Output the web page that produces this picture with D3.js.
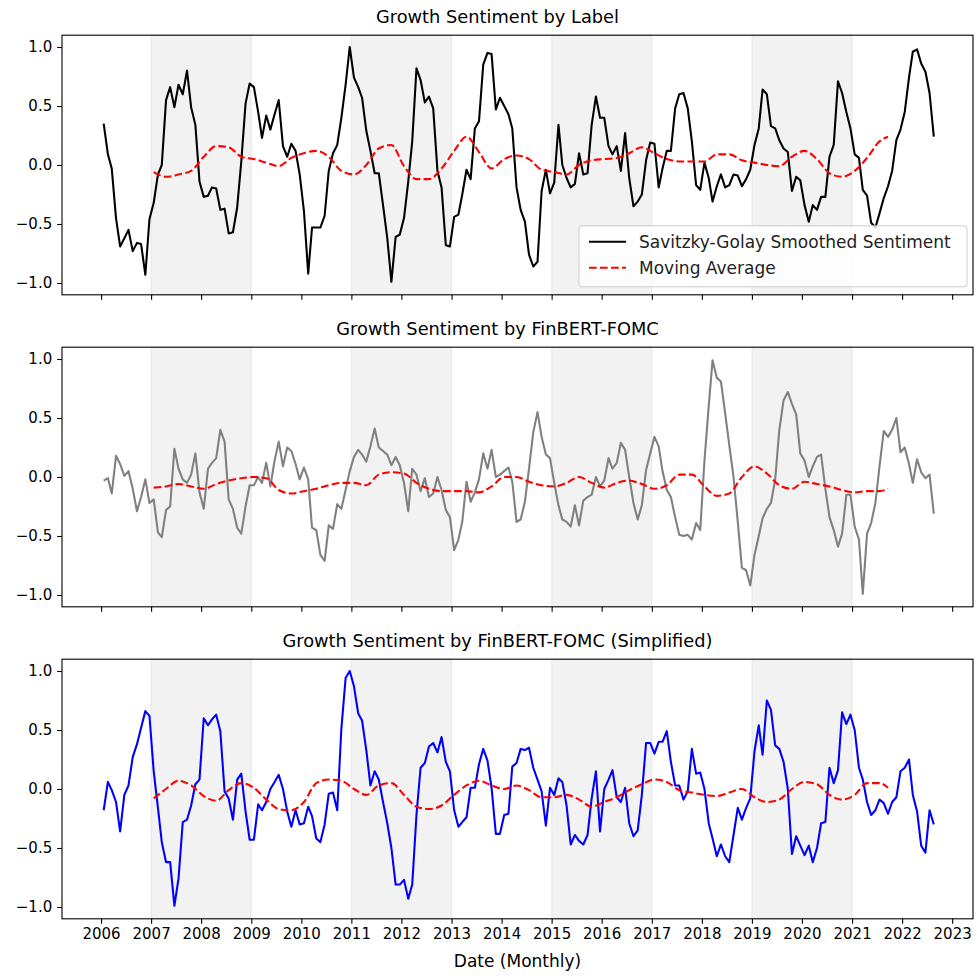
<!DOCTYPE html>
<html>
<head>
<meta charset="utf-8">
<script src="https://cdn.jsdelivr.net/npm/d3@7"></script>
<style>
body { margin: 0; background: #fff; }
svg { font-family: "DejaVu Sans", sans-serif; }
</style>
</head>
<body>
<svg id="chart" width="977" height="978"></svg>
<script>
// monthly points, first one in Jan 2006; one row per calendar year
const firstMonth = new Date(2006, 0, 20);
const years = d3.range(2006, 2024);
const spans = [[2007, 2009], [2011, 2013], [2015, 2017], [2019, 2021]];

const labelSent = [
  0.35, 0.09, -0.03, -0.45, -0.69, -0.62, -0.55, -0.73, -0.66, -0.67, -0.93, -0.46,
  -0.32, -0.08, 0.00, 0.55, 0.66, 0.49, 0.68, 0.60, 0.80, 0.49, 0.34, -0.14,
  -0.27, -0.26, -0.19, -0.20, -0.38, -0.37, -0.58, -0.57, -0.36, 0.03, 0.52, 0.69,
  0.66, 0.45, 0.23, 0.42, 0.30, 0.43, 0.55, 0.16, 0.07, 0.18, 0.12, -0.08,
  -0.39, -0.92, -0.53, -0.53, -0.53, -0.43, -0.05, 0.10, 0.17, 0.40, 0.68, 1.00,
  0.74, 0.66, 0.57, 0.29, 0.12, -0.07, -0.07, -0.34, -0.62, -0.99, -0.61, -0.59,
  -0.45, -0.14, 0.20, 0.82, 0.72, 0.53, 0.58, 0.48, -0.05, -0.19, -0.68, -0.69,
  -0.44, -0.42, -0.25, -0.04, -0.12, 0.31, 0.37, 0.85, 0.95, 0.94, 0.47, 0.57,
  0.50, 0.43, 0.31, -0.19, -0.38, -0.48, -0.76, -0.86, -0.82, -0.22, -0.04, -0.24,
  -0.15, 0.34, 0.00, -0.11, -0.19, -0.16, 0.10, -0.08, -0.07, 0.34, 0.58, 0.40,
  0.40, 0.16, 0.09, 0.16, -0.05, 0.27, -0.11, -0.35, -0.31, -0.25, 0.04, 0.19,
  0.18, -0.19, -0.03, 0.12, 0.12, 0.48, 0.60, 0.61, 0.48, 0.20, -0.17, -0.21,
  0.02, -0.11, -0.31, -0.18, -0.08, -0.19, -0.17, -0.08, -0.09, -0.18, -0.12, -0.04,
  0.17, 0.31, 0.64, 0.60, 0.33, 0.31, 0.21, 0.14, 0.11, -0.22, -0.10, -0.13,
  -0.34, -0.48, -0.34, -0.38, -0.27, -0.27, 0.07, 0.17, 0.71, 0.61, 0.45, 0.31,
  0.09, 0.06, -0.21, -0.26, -0.49, -0.53, -0.41, -0.28, -0.18, -0.05, 0.21, 0.30,
  0.45, 0.74, 0.96, 0.98, 0.86, 0.79, 0.61, 0.24
];

const fomcSent = [
  -0.03, -0.01, -0.14, 0.18, 0.11, 0.01, 0.05, -0.10, -0.29, -0.17, -0.02, -0.22,
  -0.19, -0.47, -0.51, -0.28, -0.25, 0.24, 0.07, -0.02, -0.05, 0.02, 0.20, -0.13,
  -0.27, 0.07, 0.12, 0.16, 0.40, 0.30, -0.19, -0.27, -0.43, -0.48, -0.25, -0.07,
  -0.07, 0.00, -0.05, 0.12, -0.08, 0.14, 0.30, 0.09, 0.25, 0.22, 0.11, -0.02,
  0.08, -0.02, -0.43, -0.45, -0.66, -0.71, -0.41, -0.44, -0.23, -0.27, -0.11, 0.05,
  0.17, 0.23, 0.19, 0.13, 0.26, 0.41, 0.25, 0.22, 0.19, 0.10, 0.17, 0.10,
  -0.05, -0.29, 0.07, 0.02, -0.12, -0.01, -0.17, -0.14, 0.00, -0.11, -0.28, -0.34,
  -0.62, -0.53, -0.38, -0.04, -0.21, -0.13, -0.02, 0.20, 0.07, 0.23, 0.00, 0.02,
  0.05, 0.08, -0.04, -0.38, -0.36, -0.21, 0.07, 0.38, 0.55, 0.34, 0.19, 0.16,
  -0.05, -0.24, -0.36, -0.38, -0.42, -0.24, -0.41, -0.20, -0.17, -0.15, 0.00, -0.08,
  -0.03, 0.16, 0.07, 0.12, 0.29, 0.23, 0.00, -0.22, -0.36, -0.24, 0.06, 0.20,
  0.34, 0.26, 0.05, -0.11, -0.17, -0.34, -0.49, -0.50, -0.49, -0.53, -0.39, -0.45,
  0.14, 0.60, 0.99, 0.84, 0.81, 0.54, 0.27, 0.00, -0.38, -0.77, -0.79, -0.92,
  -0.66, -0.50, -0.35, -0.27, -0.22, -0.02, 0.40, 0.65, 0.72, 0.62, 0.53, 0.20,
  0.14, 0.00, 0.09, 0.17, 0.19, -0.10, -0.34, -0.45, -0.59, -0.48, -0.15, -0.15,
  -0.42, -0.53, -0.99, -0.48, -0.39, -0.22, 0.09, 0.39, 0.34, 0.40, 0.50, 0.21,
  0.25, 0.11, -0.05, 0.15, 0.04, -0.01, 0.02, -0.31
];

const simpSent = [
  -0.18, 0.06, -0.01, -0.11, -0.36, -0.05, 0.03, 0.27, 0.38, 0.52, 0.66, 0.62,
  0.15, -0.16, -0.45, -0.62, -0.62, -0.99, -0.76, -0.28, -0.26, -0.14, 0.04, 0.08,
  0.60, 0.54, 0.59, 0.63, 0.49, -0.02, -0.08, -0.26, 0.08, 0.13, -0.19, -0.43,
  -0.43, -0.13, -0.18, -0.11, 0.00, 0.06, 0.12, 0.00, -0.19, -0.32, -0.18, -0.30,
  -0.29, -0.15, -0.23, -0.42, -0.45, -0.30, -0.04, -0.03, -0.18, 0.51, 0.94, 1.00,
  0.87, 0.64, 0.58, 0.33, 0.03, 0.15, 0.08, -0.11, -0.29, -0.50, -0.81, -0.81,
  -0.77, -0.93, -0.81, -0.22, 0.18, 0.22, 0.36, 0.39, 0.31, 0.44, 0.23, 0.15,
  -0.18, -0.32, -0.28, -0.24, 0.01, 0.01, 0.21, 0.34, 0.24, 0.01, -0.38, -0.38,
  -0.22, -0.21, 0.19, 0.22, 0.34, 0.33, 0.35, 0.18, 0.08, -0.02, -0.31, 0.01,
  -0.05, 0.09, 0.06, -0.14, -0.47, -0.39, -0.44, -0.47, -0.39, -0.08, 0.15, -0.36,
  0.00, 0.08, 0.16, -0.07, -0.11, 0.01, -0.29, -0.40, -0.35, -0.05, 0.39, 0.39,
  0.30, 0.40, 0.40, 0.49, 0.23, 0.03, 0.03, -0.09, -0.02, 0.34, 0.13, 0.14,
  0.00, -0.29, -0.42, -0.57, -0.47, -0.57, -0.62, -0.39, -0.16, -0.26, -0.16, -0.08,
  0.32, 0.54, 0.29, 0.75, 0.67, 0.37, 0.34, 0.23, 0.00, -0.55, -0.40, -0.48,
  -0.56, -0.48, -0.62, -0.50, -0.29, -0.28, 0.18, 0.05, 0.16, 0.65, 0.55, 0.63,
  0.50, 0.18, 0.08, -0.11, -0.22, -0.18, -0.09, -0.12, -0.21, -0.11, -0.07, 0.15,
  0.18, 0.25, -0.05, -0.19, -0.48, -0.54, -0.18, -0.30
];

// moving average, read every 3rd month (month index 12, 15, ... 186, then 188)
const maIndex = d3.range(12, 187, 3).concat([188]);

const labelMA = [
  -0.06, -0.10, -0.08, -0.05, 0.07, 0.16, 0.15, 0.07, 0.05, 0.02, -0.01, 0.06, 0.10, 0.12, 0.07,
  -0.05, -0.08, 0.00, 0.14, 0.17, -0.01, -0.12, -0.12, -0.03, 0.12, 0.24, 0.11, -0.03, 0.05, 0.08, 0.05, -0.04, -0.06,
  -0.08, 0.00, 0.04, 0.05, 0.06, 0.10, 0.15, 0.10, 0.05, 0.03, 0.03, 0.03, 0.09, 0.09, 0.04, 0.02, 0.00, -0.01,
  0.07, 0.12, 0.05, -0.07, -0.10, -0.05, 0.06, 0.20, 0.24
];
const fomcMA = [
  -0.09, -0.08, -0.06, -0.08, -0.10, -0.06, -0.03, -0.01, 0.00, -0.01, -0.11, -0.14, -0.12, -0.10, -0.07,
  -0.05, -0.05, -0.07, 0.02, 0.04, 0.03, -0.05, -0.10, -0.12, -0.12, -0.12, -0.13, -0.08, 0.00, 0.00, -0.04, -0.07, -0.08,
  -0.05, 0.00, -0.05, -0.09, -0.05, -0.03, -0.06, -0.10, -0.07, 0.02, 0.02, -0.08, -0.16, -0.14, 0.00, 0.09, 0.03, -0.07,
  -0.10, -0.04, -0.06, -0.08, -0.11, -0.13, -0.12, -0.12, -0.10
];
const simpMA = [
  -0.08, 0.00, 0.07, 0.03, -0.06, -0.10, -0.01, 0.05, 0.01, -0.09, -0.17, -0.18, -0.11, 0.05, 0.08,
  0.07, 0.00, -0.05, 0.03, 0.05, -0.05, -0.15, -0.17, -0.14, -0.05, 0.03, 0.07, 0.03, 0.00, 0.03, -0.01, -0.07, -0.07,
  -0.05, -0.09, -0.15, -0.11, -0.07, -0.01, 0.04, 0.08, 0.06, -0.01, -0.03, -0.05, -0.06, -0.03, 0.00, -0.07, -0.11, -0.09,
  0.00, 0.06, 0.04, -0.05, -0.09, -0.05, 0.05, 0.05, 0.01
];

const panels = [
  {title: "Growth Sentiment by Label", values: labelSent, ma: labelMA, color: "black"},
  {title: "Growth Sentiment by FinBERT-FOMC", values: fomcSent, ma: fomcMA, color: "gray"},
  {title: "Growth Sentiment by FinBERT-FOMC (Simplified)", values: simpSent, ma: simpMA, color: "blue"}
];

const months = labelSent.map(function(d, i) { return d3.timeMonth.offset(firstMonth, i); });

const svg = d3.select("#chart");
const left = 62, right = 973, plotH = 259.6;
const tops = [35.2, 347.2, 659.2];
const titleX = 497.5;
const lw = 2.08;
const dash = "7.7,3.3";
const tickFont = 15;

const x = d3.scaleTime()
    .domain([new Date(2005, 2, 22), new Date(2023, 5, 2)])
    .range([left, right]);

panels.forEach(function(p, k) {
    const top = tops[k];
    const y = d3.scaleLinear().domain([-1.1, 1.1]).range([top + plotH, top]);
    const g = svg.append("g");

    // shaded two-year bands
    g.selectAll("rect.band").data(spans).enter().append("rect")
        .attr("class", "band")
        .attr("x", function(d) { return x(new Date(d[0], 0, 1)); })
        .attr("width", function(d) { return x(new Date(d[1], 0, 1)) - x(new Date(d[0], 0, 1)); })
        .attr("y", top)
        .attr("height", plotH)
        .attr("fill", "gray").attr("fill-opacity", 0.1)
        .attr("stroke", "gray").attr("stroke-opacity", 0.1).attr("stroke-width", 1.4);

    const line = d3.line()
        .x(function(d, i) { return x(months[i]); })
        .y(function(d) { return y(d); });

    g.append("path")
        .datum(p.values)
        .attr("d", line)
        .attr("fill", "none")
        .attr("stroke", p.color)
        .attr("stroke-width", lw)
        .attr("stroke-linejoin", "round");

    const maLine = d3.line()
        .x(function(d) { return x(months[d[0]]); })
        .y(function(d) { return y(d[1]); })
        .curve(d3.curveMonotoneX);

    g.append("path")
        .datum(maIndex.map(function(m, j) { return [m, p.ma[j]]; }))
        .attr("d", maLine)
        .attr("fill", "none")
        .attr("stroke", "red")
        .attr("stroke-width", lw)
        .attr("stroke-dasharray", dash);

    // axes
    const yAxis = d3.axisLeft(y)
        .tickValues([-1, -0.5, 0, 0.5, 1])
        .tickFormat(d3.format(".1f"))
        .tickSize(4.9).tickPadding(4.9).tickSizeOuter(0);
    g.append("g")
        .attr("transform", "translate(" + left + ",0)")
        .call(yAxis)
        .call(function(a) { a.select(".domain").remove(); })
        .attr("font-family", "DejaVu Sans")
        .attr("font-size", tickFont)
        .selectAll("line").attr("stroke-width", 1.1);

    const xAxis = d3.axisBottom(x)
        .tickValues(years.map(function(yr) { return new Date(yr, 0, 1); }))
        .tickFormat(k == panels.length - 1 ? d3.timeFormat("%Y") : "")
        .tickSize(4.9).tickPadding(4.9).tickSizeOuter(0);
    g.append("g")
        .attr("transform", "translate(0," + (top + plotH) + ")")
        .call(xAxis)
        .call(function(a) { a.select(".domain").remove(); })
        .attr("font-family", "DejaVu Sans")
        .attr("font-size", tickFont)
        .selectAll("line").attr("stroke-width", 1.1);

    g.append("rect")
        .attr("x", left).attr("y", top)
        .attr("width", right - left).attr("height", plotH)
        .attr("fill", "none").attr("stroke", "black").attr("stroke-width", 1.1);

    g.append("text")
        .attr("x", titleX)
        .attr("y", top - 12)
        .attr("text-anchor", "middle")
        .attr("font-size", 17.8)
        .text(p.title);

    if (k == 0) {
        const lg = g.append("g").attr("transform", "translate(" + (right - 394) + "," + (top + plotH - 69) + ")");
        lg.append("rect")
            .attr("width", 388).attr("height", 61).attr("rx", 3)
            .attr("fill", "white").attr("fill-opacity", 0.8)
            .attr("stroke", "#cccccc");
        const items = [{label: "Savitzky-Golay Smoothed Sentiment", color: "black", dash: null},
                       {label: "Moving Average", color: "red", dash: dash}];
        items.forEach(function(it, j) {
            const yy = 16 + j * 26;
            lg.append("line")
                .attr("x1", 10).attr("x2", 47).attr("y1", yy).attr("y2", yy)
                .attr("stroke", it.color).attr("stroke-width", lw)
                .attr("stroke-dasharray", it.dash);
            lg.append("text")
                .attr("x", 60).attr("y", yy).attr("dy", "0.35em")
                .attr("font-size", 17)
                .attr("fill", "#222")
                .text(it.label);
        });
    }
});

svg.append("text")
    .attr("x", (left + right) / 2)
    .attr("y", 967)
    .attr("text-anchor", "middle")
    .attr("font-size", 17)
    .text("Date (Monthly)");
</script>
</body>
</html>
